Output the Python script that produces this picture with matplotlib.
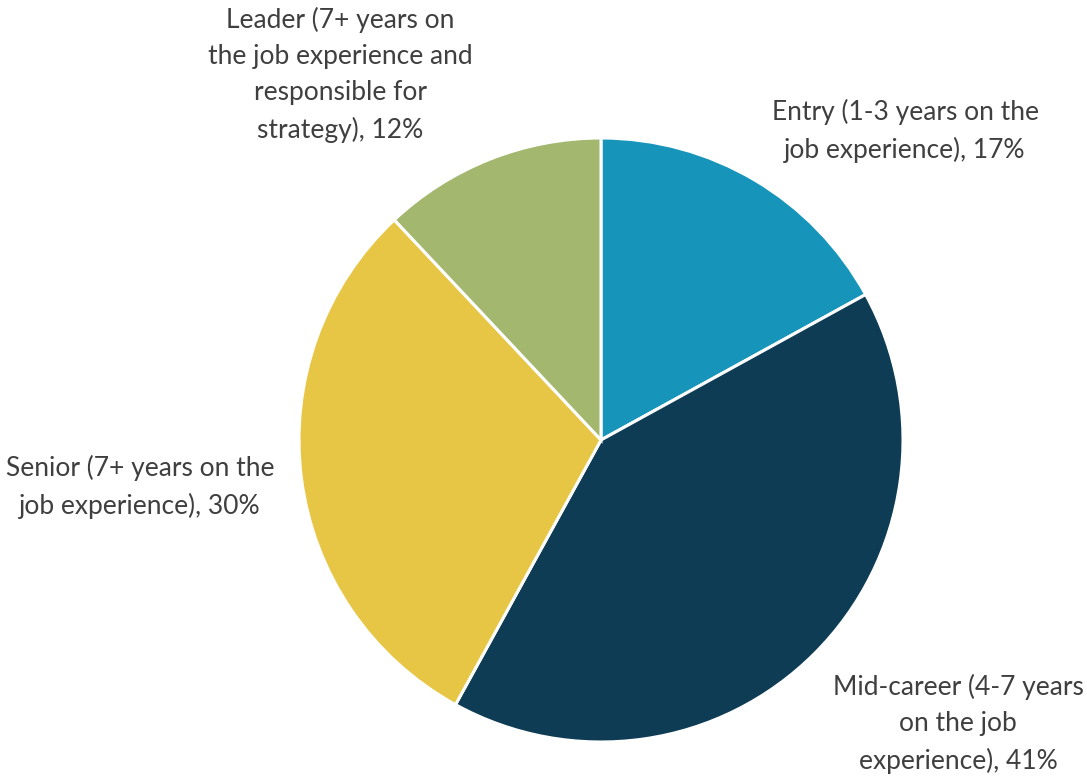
import matplotlib
matplotlib.use("Agg")
import matplotlib.pyplot as plt

plt.rcParams['font.family'] = ['Lato', 'DejaVu Sans']

# career level shares, clockwise from 12 o'clock
levels = ["Entry (1-3 years on the\njob experience)",
          "Mid-career (4-7 years\non the job\nexperience)",
          "Senior (7+ years on the\njob experience)",
          "Leader (7+ years on\nthe job experience and\nresponsible for\nstrategy)"]
shares = [17, 41, 30, 12]
colors = ["#1794B9", "#0E3C55", "#E8C645", "#A3B86E"]

W, H = 1087, 776
fig = plt.figure(figsize=(W / 100, H / 100), dpi=100)
ax = fig.add_axes([0, 0, 1, 1])

ax.pie(shares, colors=colors, startangle=90, counterclock=False,
       center=(601, H - 440), radius=302, frame=True,
       wedgeprops=dict(edgecolor='white', linewidth=2.2))
ax.set_xlim(0, W)
ax.set_ylim(0, H)
ax.set_aspect('equal')
ax.axis('off')

# label anchors (pixel positions, y measured from top)
label_pos = [(905, 131), (958, 724), (140, 487), (340, 75)]
for name, val, (x, y) in zip(levels, shares, label_pos):
    ax.text(x, H - y, f"{name}, {val}%", ha='center', va='center',
            fontsize=19, color='#3F3F3F', linespacing=1.55)

fig.savefig("out.png", dpi=100)
